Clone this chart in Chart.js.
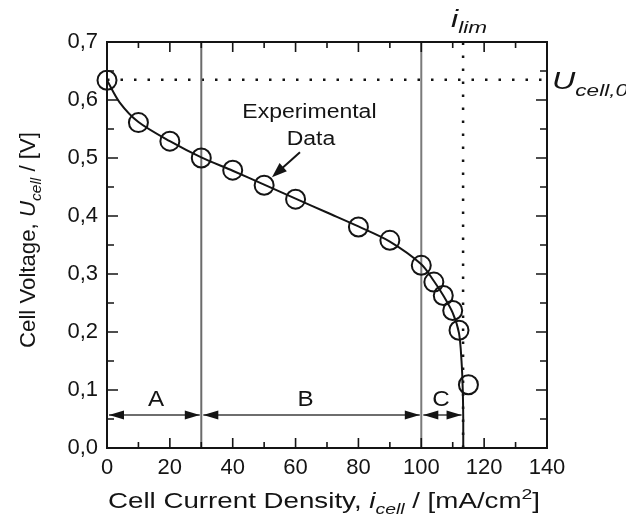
<!DOCTYPE html>
<html><head><meta charset="utf-8">
<script src="https://cdn.jsdelivr.net/npm/chart.js@4/dist/chart.umd.min.js"></script>
<style>html,body{margin:0;padding:0;background:#fff;overflow:hidden}#wrap{width:626px;height:519px}</style>
</head><body><div id="wrap"><canvas id="c" width="626" height="519"></canvas></div>
<script>
// ---- data ----
const currents = [0, 10, 20, 30, 40, 50, 60, 80, 90, 100, 104, 107, 110, 112, 115];
const voltages = [0.634, 0.561, 0.529, 0.500, 0.479, 0.453, 0.429, 0.381, 0.358, 0.315, 0.286, 0.263, 0.237, 0.203, 0.109];
const fitCurrents = [0, 4, 10, 20, 30, 40, 50, 60, 70, 80, 90, 100, 104, 107, 110, 112, 112.8, 113.2, 113.35, 113.35];
const fitVoltages = [0.634, 0.596, 0.562, 0.529, 0.501, 0.478, 0.454, 0.430, 0.406, 0.382, 0.356, 0.317, 0.288, 0.263, 0.233, 0.198, 0.150, 0.100, 0.050, 0.0];
const xTicks = [0, 20, 40, 60, 80, 100, 120, 140];
const yTicks = [0.0, 0.1, 0.2, 0.3, 0.4, 0.5, 0.6, 0.7];
const regionBounds = [0, 30, 100, 113.3];
const regionLabels = ['A', 'B', 'C'];
const regionLabelX = [15.6, 63.2, 106.3];
const regionLabelY = 0.072;
const arrowY = 0.057;
const iLim = 113.3;
const uCell0 = 0.635;
const dataArrowTail = [61.4, 0.510];
const dataArrowTip = [52.5, 0.467];

const FONT = '"Liberation Sans", Arial, Helvetica, sans-serif';
const INK = '#141414';

function segFont(seg, size) {
  const s = seg.pos ? size * 0.7 : size;
  return (seg.it ? 'italic ' : '') + s.toFixed(1) + 'px ' + FONT;
}
function richWidth(ctx, segs, size) {
  let w = 0;
  for (const seg of segs) { ctx.font = segFont(seg, size); w += ctx.measureText(seg.t).width; }
  return w;
}
function drawRich(ctx, segs, x, y, size, o) {
  o = o || {};
  ctx.save();
  ctx.translate(x, y);
  if (o.rot) ctx.rotate(o.rot);
  const w = richWidth(ctx, segs, size);
  const s = o.targetW ? o.targetW / w : (o.stretch || 1);
  ctx.scale(s, 1);
  let cx = o.align === 'center' ? -w / 2 : 0;
  ctx.fillStyle = INK;
  ctx.textBaseline = 'alphabetic';
  ctx.textAlign = 'left';
  for (const seg of segs) {
    ctx.font = segFont(seg, size);
    let dy = 0;
    if (seg.pos === 'sub') dy = size * (o.subOff || 0.28);
    if (seg.pos === 'sup') dy = -size * 0.42;
    ctx.fillText(seg.t, cx, dy);
    cx += ctx.measureText(seg.t).width;
  }
  ctx.restore();
}
function arrowHead(ctx, tx, ty, dx, dy, len, hw) {
  const n = Math.hypot(dx, dy); dx /= n; dy /= n;
  const bx = tx - dx * len, by = ty - dy * len;
  ctx.beginPath();
  ctx.moveTo(tx, ty);
  ctx.lineTo(bx - dy * hw, by + dx * hw);
  ctx.lineTo(bx + dy * hw, by - dx * hw);
  ctx.closePath();
  ctx.fill();
}

const decor = {
  id: 'decor',
  afterDatasetsDraw(chart) {
    const ctx = chart.ctx, a = chart.chartArea;
    const xs = chart.scales.x, ys = chart.scales.y;
    const X = v => xs.getPixelForValue(v), Y = v => ys.getPixelForValue(v);
    ctx.save();
    // frame
    ctx.strokeStyle = INK; ctx.lineWidth = 2;
    ctx.strokeRect(a.left, a.top, a.right - a.left, a.bottom - a.top);
    // inward ticks
    ctx.lineWidth = 1.6;
    ctx.beginPath();
    for (let i = 1; i < 14; i++) {
      const v = i * 10, px = X(v), L = (i % 2 === 0) ? 10 : 6;
      ctx.moveTo(px, a.bottom); ctx.lineTo(px, a.bottom - L);
      ctx.moveTo(px, a.top); ctx.lineTo(px, a.top + L);
    }
    for (let i = 1; i < 14; i++) {
      const v = i * 0.05, py = Y(v), L = (i % 2 === 0) ? 11 : 7;
      ctx.moveTo(a.left, py); ctx.lineTo(a.left + L, py);
      ctx.moveTo(a.right, py); ctx.lineTo(a.right - L, py);
    }
    ctx.stroke();
    // region arrows
    const ay = Y(arrowY);
    ctx.strokeStyle = '#6e6e6e'; ctx.lineWidth = 2; ctx.fillStyle = INK;
    for (let i = 0; i < regionLabels.length; i++) {
      const x0 = X(regionBounds[i]) + 2, x1 = X(regionBounds[i + 1]) - 1.5;
      ctx.beginPath(); ctx.moveTo(x0, ay); ctx.lineTo(x1, ay); ctx.stroke();
      arrowHead(ctx, x0, ay, -1, 0, 15, 4.5);
      arrowHead(ctx, x1, ay, 1, 0, 15, 4.5);
      drawRich(ctx, [{t: regionLabels[i]}], X(regionLabelX[i]), Y(regionLabelY), 22, {align: 'center', stretch: 1.1});
    }
    // experimental data arrow
    const tx = X(dataArrowTip[0]), ty = Y(dataArrowTip[1]);
    const sx = X(dataArrowTail[0]), sy = Y(dataArrowTail[1]);
    ctx.strokeStyle = INK; ctx.lineWidth = 2;
    ctx.beginPath(); ctx.moveTo(sx, sy); ctx.lineTo(tx + (sx - tx) * 0.3, ty + (sy - ty) * 0.3); ctx.stroke();
    arrowHead(ctx, tx, ty, tx - sx, ty - sy, 15, 5.5);
    drawRich(ctx, [{t: 'Experimental'}], X(64.4), Y(0.569), 20, {align: 'center', stretch: 1.15});
    drawRich(ctx, [{t: 'Data'}], X(64.9), Y(0.522), 20, {align: 'center', stretch: 1.15});
    // i_lim and U_cell,0
    drawRich(ctx, [{t: 'i', it: 1}, {t: 'lim', it: 1, pos: 'sub'}], X(iLim) - 12, 27, 24, {targetW: 36, subOff: 0.25});
    drawRich(ctx, [{t: 'U', it: 1}, {t: 'cell,0', it: 1, pos: 'sub'}], a.right + 5, Y(uCell0) + 9, 24, {targetW: 76, subOff: 0.3});
    // axis titles
    drawRich(ctx, [{t: 'Cell Current Density, '}, {t: 'i', it: 1}, {t: 'cell', it: 1, pos: 'sub'}, {t: ' / [mA/cm'}, {t: '2', pos: 'sup'}, {t: ']'}],
      108, 508, 22, {targetW: 432});
    drawRich(ctx, [{t: 'Cell Voltage, '}, {t: 'U', it: 1}, {t: 'cell', it: 1, pos: 'sub'}, {t: ' / [V]'}],
      35, 348, 22, {targetW: 216, rot: -Math.PI / 2});
    ctx.restore();
  }
};

const pts = (xa, ya) => xa.map((x, i) => ({x: x, y: ya[i]}));
const lineDs = (data, color, width, dash) => ({
  data: data, showLine: true, pointRadius: 0, borderColor: color, borderWidth: width,
  borderDash: dash || [], fill: false, tension: 0
});

new Chart(document.getElementById('c'), {
  type: 'scatter',
  data: {
    datasets: [
      {label: 'Experimental Data', data: pts(currents, voltages), showLine: false, clip: false,
       pointRadius: 9.5, pointBorderWidth: 2, pointBorderColor: INK, pointBackgroundColor: 'rgba(255,255,255,0)'},
      Object.assign(lineDs(pts(fitCurrents, fitVoltages), INK, 2), {tension: 0.3}),
      lineDs(pts([regionBounds[1], regionBounds[1]], [0, 0.7]), '#6b6b6b', 2),
      lineDs(pts([regionBounds[2], regionBounds[2]], [0, 0.7]), '#7a7a7a', 2),
      lineDs(pts([iLim, iLim], [0, 0.7]), INK, 2.5, [2.5, 10.5]),
      lineDs(pts([0, 140], [uCell0, uCell0]), INK, 2.5, [2.5, 11])
    ]
  },
  options: {
    responsive: false, animation: false, devicePixelRatio: 1,
    layout: {padding: {top: 42, right: 79, left: 0, bottom: 0}},
    plugins: {legend: {display: false}, tooltip: {enabled: false}},
    scales: {
      x: {
        type: 'linear', min: 0, max: 140,
        afterBuildTicks: s => { s.ticks = xTicks.map(v => ({value: v})); },
        ticks: {font: {family: FONT, size: 22}, color: INK, padding: 7, maxRotation: 0},
        grid: {display: false, drawTicks: false},
        border: {display: true, color: INK, width: 2},
        afterFit: s => { s.height = 71; }
      },
      y: {
        type: 'linear', min: 0, max: 0.7,
        afterBuildTicks: s => { s.ticks = yTicks.map(v => ({value: v})); },
        ticks: {font: {family: FONT, size: 22}, color: INK, padding: 9,
                callback: v => v.toFixed(1).replace('.', ',')},
        grid: {display: false, drawTicks: false},
        border: {display: true, color: INK, width: 2},
        afterFit: s => { s.width = 107; }
      }
    }
  },
  plugins: [decor]
});
</script></body></html>
